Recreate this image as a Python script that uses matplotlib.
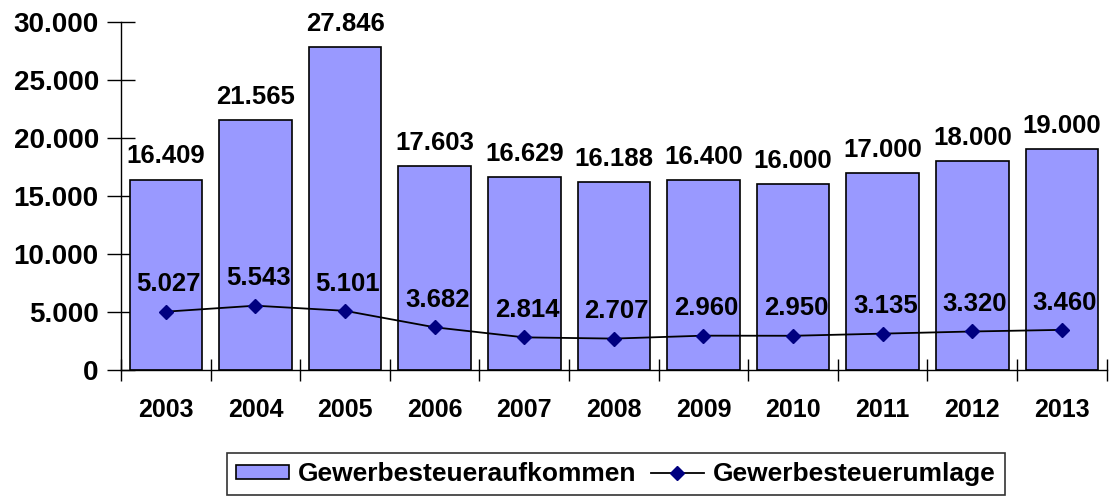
import numpy as np
import matplotlib.pyplot as plt

plt.rcParams['font.family'] = ['Liberation Sans', 'DejaVu Sans']
plt.rcParams['font.weight'] = 'bold'

years = ['2003', '2004', '2005', '2006', '2007', '2008', '2009', '2010', '2011', '2012', '2013']
aufkommen = [16409, 21565, 27846, 17603, 16629, 16188, 16400, 16000, 17000, 18000, 19000]
umlage = [5027, 5543, 5101, 3682, 2814, 2707, 2960, 2950, 3135, 3320, 3460]


def de_fmt(v):
    return f'{v:,.0f}'.replace(',', '.')


fig = plt.figure(figsize=(11.1, 4.96), dpi=100)
ax = fig.add_axes([0.109, 0.254, 0.888, 0.702])

x = np.arange(len(years))
bars = ax.bar(x, aufkommen, width=0.81, color='#9999FF', edgecolor='black',
              linewidth=1.2, label='Gewerbesteueraufkommen', zorder=2)
line, = ax.plot(x, umlage, color='black', linewidth=1.3, marker='D', markersize=7,
                markerfacecolor='#000080', markeredgecolor='#000080',
                label='Gewerbesteuerumlage', zorder=3)

for xi, v in zip(x, aufkommen):
    ax.annotate(de_fmt(v), (xi, v), xytext=(0, 8), textcoords='offset points',
                ha='center', va='bottom', fontsize=18.5, fontweight='bold')
for xi, v in zip(x, umlage):
    ax.annotate(de_fmt(v), (xi, v), xytext=(2, 11), textcoords='offset points',
                ha='center', va='bottom', fontsize=18.5, fontweight='bold')

ax.set_xlim(-0.5, len(years) - 0.5)
ax.set_ylim(0, 30000)
ax.set_yticks(np.arange(0, 30001, 5000))
ax.set_yticklabels([de_fmt(v) for v in np.arange(0, 30001, 5000)], fontsize=20)
ax.set_xticks(x)
ax.set_xticklabels(years, fontsize=18)
ax.set_xticks(np.arange(-0.5, len(years)), minor=True)
ax.tick_params(axis='x', which='major', length=0, pad=20)
ax.tick_params(axis='x', which='minor', direction='inout', length=16, width=1)
ax.tick_params(axis='y', direction='inout', length=20, width=1, pad=6)

for side in ['top', 'right']:
    ax.spines[side].set_visible(False)
ax.spines['left'].set_linewidth(1)
ax.spines['bottom'].set_linewidth(1)

leg = fig.legend(handles=[bars, line], loc='upper left',
                 bbox_to_anchor=(227 / 1110, 1 - 453 / 496),
                 ncol=2, frameon=True, fancybox=False,
                 prop={'family': 'Liberation Sans', 'weight': 'bold', 'size': 19},
                 edgecolor='black', handlelength=2.0, handleheight=0.45,
                 handletextpad=0.35, columnspacing=0.53, borderpad=0.35,
                 borderaxespad=0)
leg.get_frame().set_linewidth(1.2)

fig.savefig('out.png', dpi=100)
